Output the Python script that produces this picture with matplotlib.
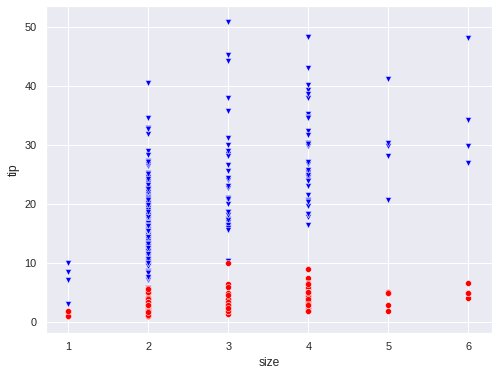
import matplotlib
matplotlib.use("Agg")
import matplotlib.pyplot as plt
import seaborn as sns
import pandas as pd

# party size -> total bill and tip, grouped by size
sizes = [1, 2, 3, 4, 5, 6]

bill_1 = [3.07, 10.07, 7.25, 8.58]
tip_1 = [1.0, 1.83, 1.0, 1.92]

bill_2 = [16.99, 23.68, 8.77, 15.04, 14.78, 10.27, 15.42, 14.83, 21.58, 17.92,
          20.29, 15.77, 19.82, 13.37, 12.69, 21.70, 19.65, 9.55, 15.06, 17.78,
          17.46, 13.94, 9.68, 18.29, 22.23, 18.04, 12.54, 10.29, 9.94, 19.49,
          26.41, 11.24, 20.29, 13.81, 11.02, 16.45, 20.23, 15.01, 12.02, 26.86,
          25.28, 14.73, 10.51, 17.92, 22.76, 17.29, 19.44, 16.66, 32.68, 15.98,
          13.03, 18.28, 24.71, 21.16, 28.97, 22.49, 5.75, 16.32, 22.75, 27.28,
          12.03, 21.01, 12.46, 11.35, 15.38, 22.42, 20.92, 15.36, 20.49, 25.21,
          18.24, 14.31, 14.0, 23.95, 17.31, 10.65, 12.43, 11.69, 13.42, 14.26,
          15.95, 12.48, 8.52, 14.52, 11.38, 19.08, 20.27, 11.17, 12.26, 18.26,
          8.51, 10.33, 14.15, 16.0, 13.16, 17.47, 16.43, 8.35, 11.87, 9.78,
          7.51, 14.07, 13.13, 13.39, 12.66, 13.81, 17.51, 20.76, 10.59, 10.63,
          15.81, 7.25, 31.85, 16.82, 32.90, 17.89, 14.48, 9.60, 34.63, 23.33,
          40.55, 15.69, 19.81, 28.44, 15.48, 16.58, 7.56, 10.34, 13.0, 13.51,
          12.74, 13.0, 16.40, 24.27, 12.76, 13.27, 12.90, 11.59, 7.74, 12.16,
          13.42, 13.42, 16.27, 10.09, 13.28, 22.12, 11.61, 10.77, 15.53, 10.07,
          12.60, 32.83, 27.18, 22.67, 17.82, 18.78]
tip_2 = [1.01, 3.31, 2.0, 1.96, 3.23, 1.71, 1.57, 3.02, 3.92, 4.08,
         2.75, 2.23, 3.18, 2.0, 2.0, 4.3, 3.0, 1.45, 3.0, 3.27,
         2.54, 3.06, 1.32, 3.0, 5.0, 3.0, 2.5, 2.6, 1.56, 3.51,
         1.5, 1.76, 3.21, 2.0, 1.98, 2.47, 2.01, 2.09, 1.97, 3.14,
         5.0, 2.2, 1.25, 3.08, 3.0, 2.71, 3.0, 3.4, 5.0, 2.03,
         2.0, 4.0, 5.85, 3.0, 3.0, 3.5, 1.0, 4.3, 3.25, 4.0,
         1.5, 3.0, 1.5, 2.5, 3.0, 3.48, 4.08, 1.64, 4.06, 4.29,
         3.76, 4.0, 3.0, 2.55, 3.5, 1.5, 1.8, 2.31, 1.68, 2.5,
         2.0, 2.52, 1.48, 2.0, 2.0, 1.5, 2.83, 1.5, 2.0, 3.25,
         1.25, 2.0, 2.0, 2.0, 2.75, 3.5, 2.3, 1.5, 1.63, 1.73,
         2.0, 2.5, 2.0, 2.61, 2.5, 2.0, 3.0, 2.24, 1.61, 2.0,
         3.16, 5.15, 3.18, 4.0, 3.11, 2.0, 2.0, 4.0, 3.55, 5.65,
         3.0, 1.5, 4.19, 2.56, 2.02, 4.0, 1.44, 2.0, 2.0, 2.0,
         2.01, 2.0, 2.5, 2.03, 2.23, 2.5, 1.1, 1.5, 1.44, 2.2,
         3.48, 1.58, 2.5, 2.0, 2.72, 2.88, 3.39, 1.47, 3.0, 1.25,
         1.0, 1.17, 2.0, 2.0, 1.75, 3.0]

bill_3 = [10.34, 21.01, 10.33, 16.29, 16.97, 20.65, 24.06, 16.31, 16.93, 18.69,
          31.27, 16.04, 28.55, 17.59, 20.08, 17.07, 38.07, 25.71, 22.82, 18.64,
          17.26, 16.21, 24.52, 50.81, 45.35, 20.90, 18.15, 23.10, 18.71, 16.47,
          26.59, 30.06, 28.17, 15.98, 15.69, 35.83, 29.03, 44.30]
tip_3 = [1.66, 3.5, 1.67, 3.71, 3.5, 3.35, 3.6, 2.0, 3.07, 2.31,
         5.0, 2.24, 2.05, 2.64, 3.15, 3.0, 4.0, 4.0, 2.18, 1.36,
         2.74, 2.0, 3.48, 10.0, 3.5, 3.5, 3.5, 4.0, 4.0, 3.23,
         3.41, 2.0, 6.5, 3.0, 3.0, 4.67, 5.92, 2.5]

bill_4 = [24.59, 25.29, 26.88, 35.26, 18.43, 39.42, 17.81, 18.35, 20.69, 30.40,
          32.40, 34.81, 25.56, 38.01, 48.27, 18.29, 27.20, 34.83, 40.17, 29.93,
          24.08, 24.55, 19.77, 25.0, 16.49, 21.50, 31.71, 34.65, 23.17, 43.11,
          20.53, 38.73, 25.89, 48.33, 30.14, 20.45, 24.01]
tip_4 = [3.61, 4.71, 3.12, 5.0, 3.0, 7.58, 2.34, 2.5, 2.45, 5.6,
         6.0, 5.2, 4.34, 3.0, 6.73, 3.76, 4.0, 5.17, 4.73, 5.07,
         2.92, 2.0, 2.0, 3.75, 2.0, 3.5, 4.5, 3.68, 6.5, 5.0,
         4.0, 3.0, 5.16, 9.0, 3.09, 3.0, 2.0]

bill_5 = [41.19, 29.85, 20.69, 30.46, 28.15]
tip_5 = [5.0, 5.14, 5.0, 2.0, 3.0]

bill_6 = [29.80, 34.30, 27.05, 48.17]
tip_6 = [4.2, 6.7, 5.0, 5.0]

bills = [bill_1, bill_2, bill_3, bill_4, bill_5, bill_6]
tips_ = [tip_1, tip_2, tip_3, tip_4, tip_5, tip_6]

rows = []
for s, b, t in zip(sizes, bills, tips_):
    for bb, tt in zip(b, t):
        rows.append((s, bb, tt))
tips = pd.DataFrame(rows, columns=["size", "total_bill", "tip"])

sns.set_theme(style="darkgrid")
plt.rcParams['font.family'] = ['Liberation Sans', 'DejaVu Sans']

fig = plt.figure(figsize=(497 / 72, 373 / 72), dpi=72)
ax = fig.add_axes([46 / 497, 40 / 373, (491.7 - 46) / 497, (333 - 6) / 373])

sns.scatterplot(data=tips, x="size", y="total_bill", marker="v", color="blue", ax=ax)
sns.scatterplot(data=tips, x="size", y="tip", color="red", ax=ax)

ax.set_xlim(0.72, 6.29)
ax.set_ylim(-1.8, 53.6)
ax.set_xlabel("size")
ax.set_ylabel("tip")

fig.savefig("out.png", dpi=72)
